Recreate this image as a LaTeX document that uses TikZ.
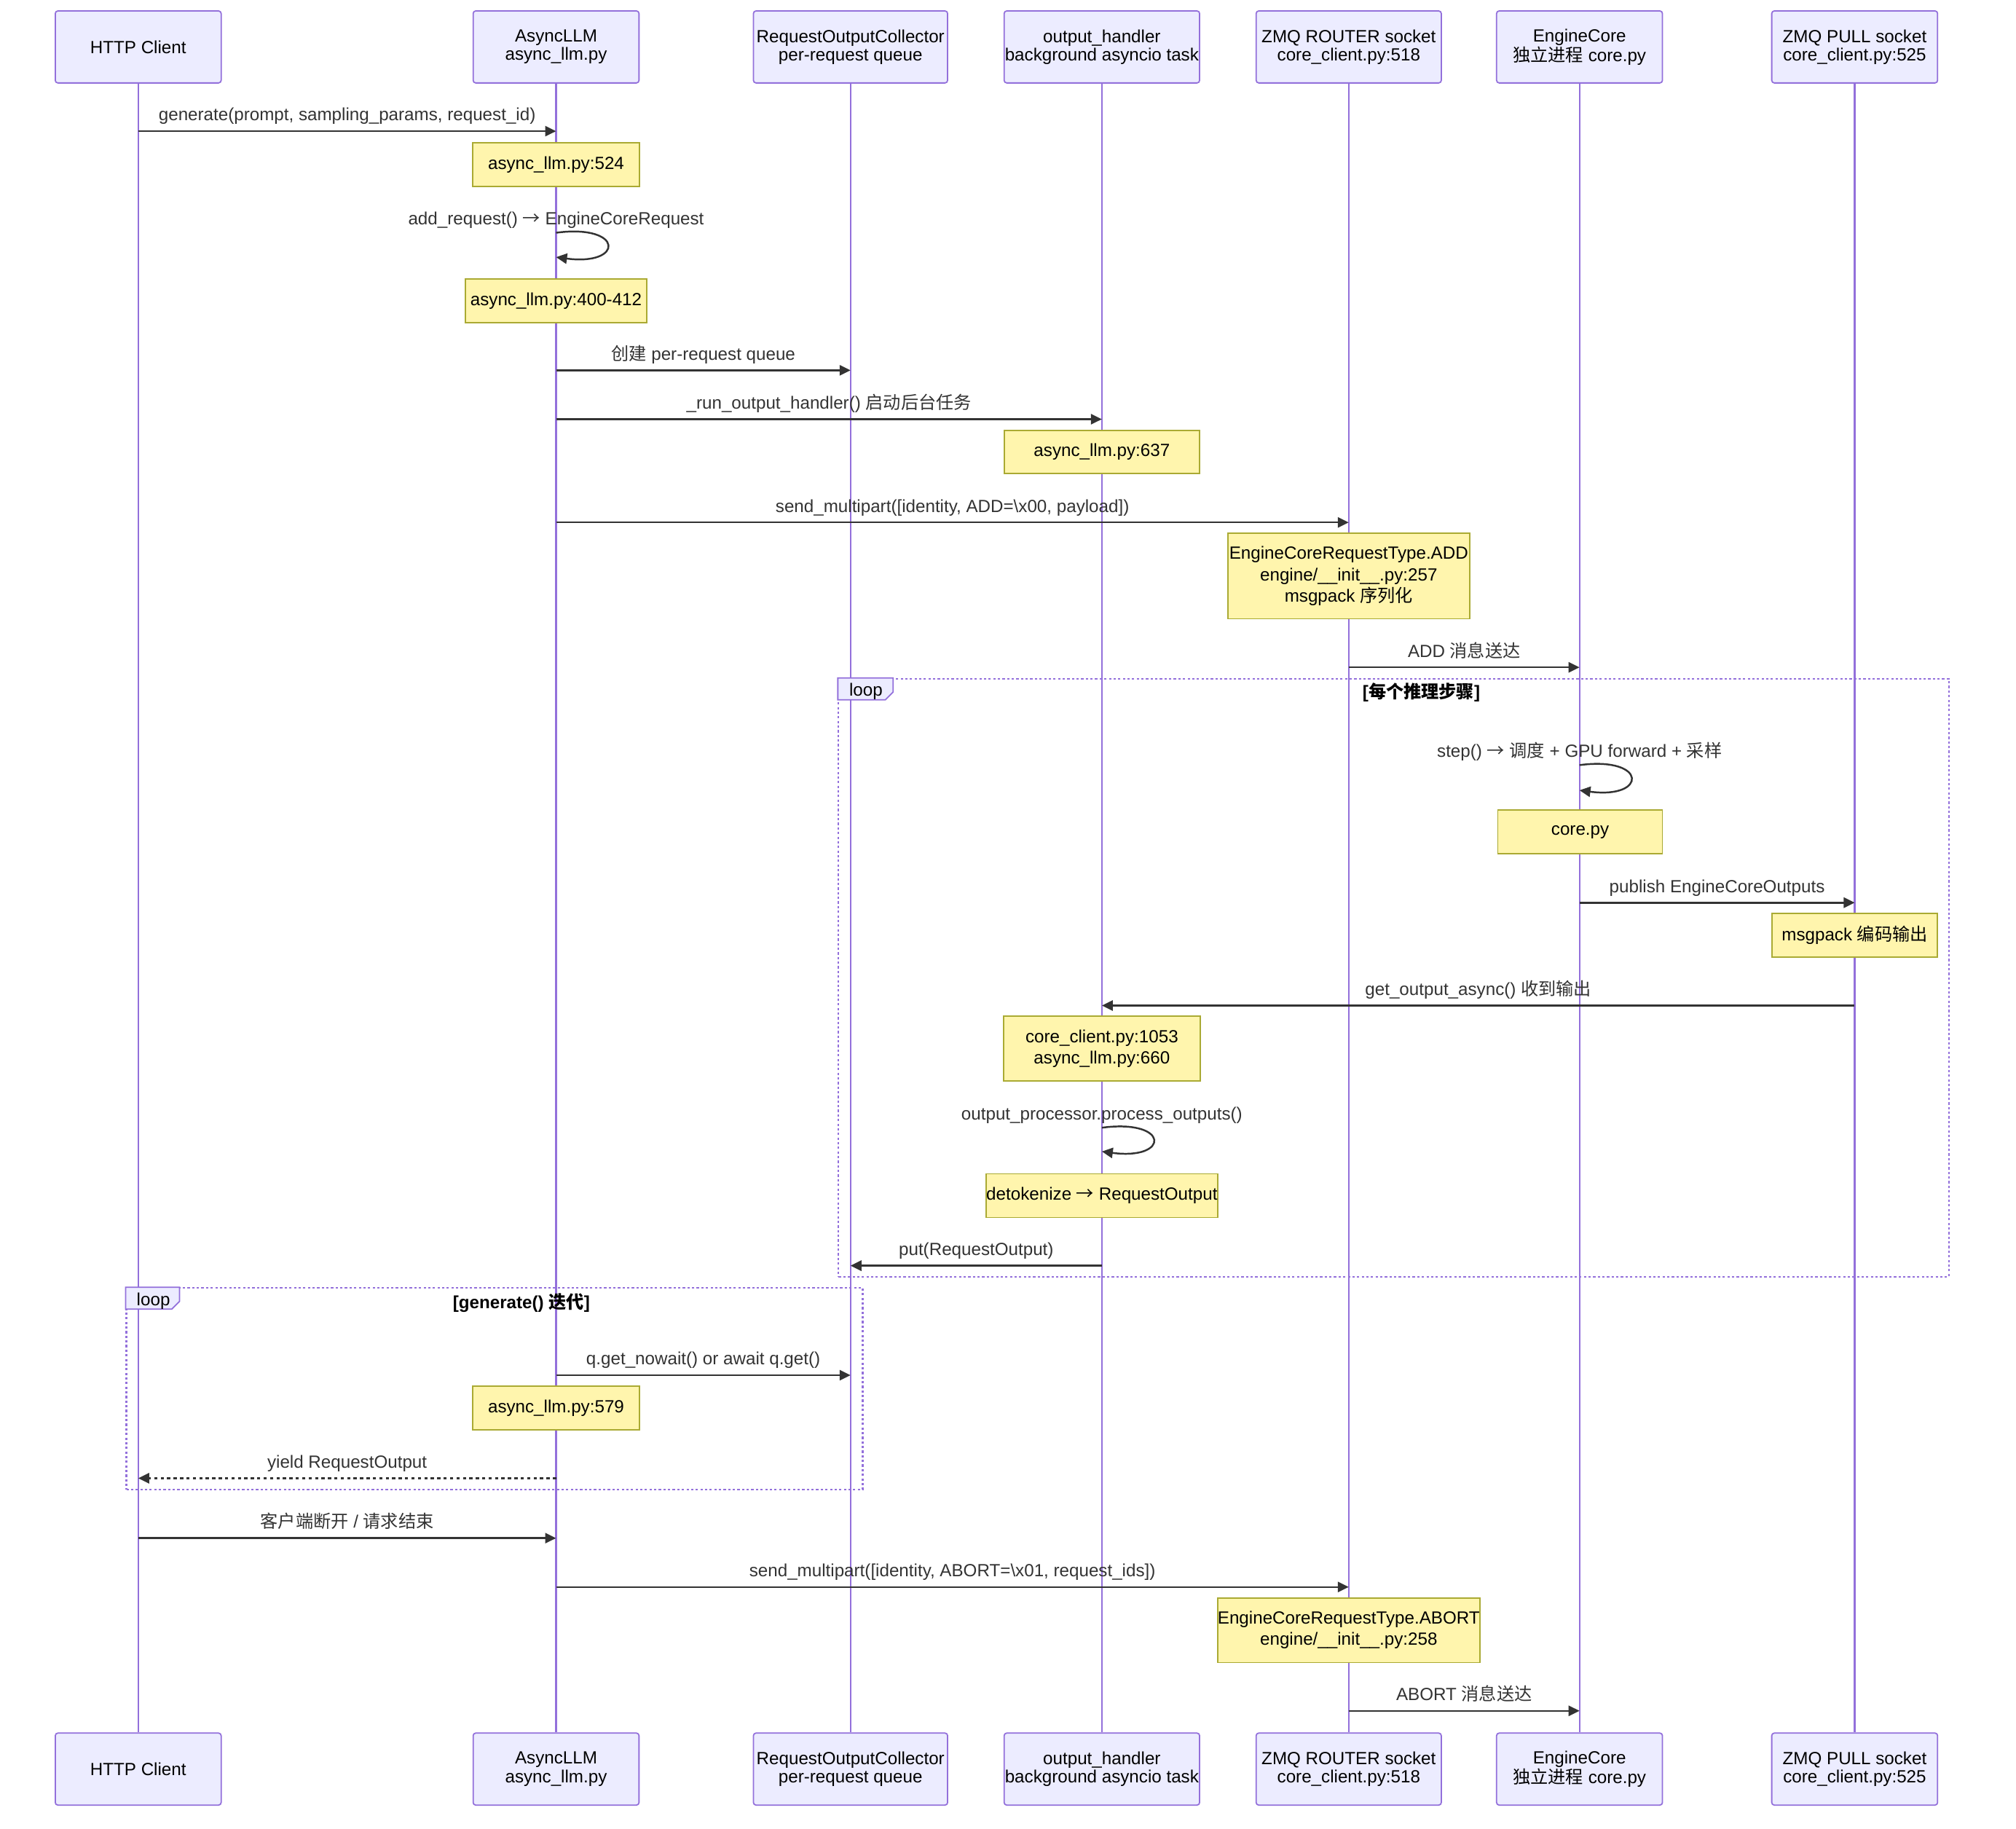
\documentclass[tikz,border=0pt]{standalone}
\usepackage{fontspec}
\setmainfont{Liberation Sans}
\newfontfamily\cjk{Noto Sans CJK SC}
\newcommand\zh[1]{{\cjk #1}}
\newcommand\rarr{{\cjk →}}
\usetikzlibrary{arrows.meta,calc}
\definecolor{actfill}{HTML}{ECECFF}
\definecolor{actline}{HTML}{9370DB}
\definecolor{notefill}{HTML}{FFF5AD}
\definecolor{noteline}{HTML}{AAAA33}
\definecolor{msgcol}{HTML}{333333}
\begin{document}
\begin{tikzpicture}[x=1pt,y=-1pt,
  font=\fontsize{13.7}{15}\selectfont,
  actor/.style={draw=actline, fill=actfill, line width=1pt, rounded corners=2pt,
    minimum height=56, align=center, inner sep=0pt, text=black,
    font=\fontsize{13.7}{14.3}\selectfont},
  life/.style={draw=actline, line width=1.2pt},
  notebox/.style={draw=noteline, fill=notefill, line width=1pt, align=center,
    inner sep=0pt, text=black, font=\fontsize{13.7}{16.5}\selectfont},
  msg/.style={draw=msgcol, line width=1.4pt, -{Triangle[length=8.5pt,width=8pt]}},
  dmsg/.style={msg, dash pattern=on 2.5pt off 2.5pt},
  mlabel/.style={anchor=base, yshift=8pt, text=msgcol, inner sep=0pt},
  slabel/.style={anchor=base, yshift=6pt, text=msgcol, inner sep=0pt},
  loopbox/.style={draw=actline, line width=1.2pt, dash pattern=on 1.8pt off 1.8pt, inner sep=0pt},
  looptab/.style={draw=actline, fill=actfill, line width=1pt},
  looptext/.style={anchor=base, inner sep=0pt, text=black},
  condtext/.style={anchor=base, inner sep=0pt, text=black, font=\fontsize{13.7}{15}\selectfont\bfseries}
]
\useasboundingbox[fill=white] (0,0) rectangle (1568,1422);

% actors top
\node[actor, minimum width=129] (a1) at (107.5,36.5) {HTTP Client};
\node[actor, minimum width=129] (a2) at (432.5,36.5) {AsyncLLM\\async\_llm.py};
\node[actor, minimum width=151] (a3) at (661.5,36.5) {RequestOutputCollector\\per-request queue};
\node[actor, minimum width=152] (a4) at (857,36.5) {output\_handler\\background asyncio task};
\node[actor, minimum width=144] (a5) at (1049,36.5) {ZMQ ROUTER socket\\core\_client.py:518};
\node[actor, minimum width=129] (a6) at (1228.5,36.5) {EngineCore\\\zh{独立进程} core.py};
\node[actor, minimum width=129] (a7) at (1442.5,36.5) {ZMQ PULL socket\\core\_client.py:525};
% actors bottom
\node[actor, minimum width=129] (b1) at (107.5,1375.8) {HTTP Client};
\node[actor, minimum width=129] (b2) at (432.5,1375.8) {AsyncLLM\\async\_llm.py};
\node[actor, minimum width=151] (b3) at (661.5,1375.8) {RequestOutputCollector\\per-request queue};
\node[actor, minimum width=152] (b4) at (857,1375.8) {output\_handler\\background asyncio task};
\node[actor, minimum width=144] (b5) at (1049,1375.8) {ZMQ ROUTER socket\\core\_client.py:518};
\node[actor, minimum width=129] (b6) at (1228.5,1375.8) {EngineCore\\\zh{独立进程} core.py};
\node[actor, minimum width=129] (b7) at (1442.5,1375.8) {ZMQ PULL socket\\core\_client.py:525};

% lifelines
\foreach \i in {1,...,7} \draw[life] (a\i.south) -- (b\i.north);

% loop boxes
\node[loopbox, minimum width=863.5, minimum height=465] (L1) at (1084,760.3) {};
\draw[looptab] (L1.north west) -- ++(43,0) -- ++(0,11) -- ++(-6,6) -- ++(-37,0) -- cycle;
\node[looptext] (L1t) at (673.5,541.5) {loop};
\node[condtext] (L1c) at (1105.5,543) {[\zh{每个推理步骤}]};

\node[loopbox, minimum width=572.7, minimum height=156.7] (L2) at (384.65,1080) {};
\draw[looptab] (L2.north west) -- ++(42,0) -- ++(0,11) -- ++(-6,6) -- ++(-36,0) -- cycle;
\node[looptext] (L2t) at (119.3,1015.5) {loop};
\node[condtext] (L2c) at (405.5,1017.5) {[generate() \zh{迭代}]};

% messages
\draw[msg] (a1 |- 0,102) -- node[mlabel] (t1) {generate(prompt, sampling\_params, request\_id)} (a2 |- 0,102);
\node[notebox, minimum width=129.5, minimum height=34] (n1) at (432.5,128) {async\_llm.py:524};

\draw[msg] (a2 |- 0,181) .. controls +(53,-7) and +(53,7) .. (a2 |- 0,200);
\node[slabel] (t2) at (a2 |- 0,181) {add\_request() \rarr{} EngineCoreRequest};
\node[notebox, minimum width=141, minimum height=34] (n2) at (432.5,234) {async\_llm.py:400-412};

\draw[msg] (a2 |- 0,288) -- node[mlabel] (t3) {\zh{创建} per-request queue} (a3 |- 0,288);
\draw[msg] (a2 |- 0,326) -- node[mlabel] (t4) {\_run\_output\_handler() \zh{启动后台任务}} (a4 |- 0,326);
\node[notebox, minimum width=152, minimum height=33.5] (n3) at (857,351.5) {async\_llm.py:637};

\draw[msg] (a2 |- 0,406.3) -- node[mlabel] (t5) {send\_multipart([identity, ADD=\textbackslash x00, payload])} (a5 |- 0,406.3);
\node[notebox, minimum width=188, minimum height=66.5] (n4) at (1049,448) {EngineCoreRequestType.ADD\\engine/\_\_init\_\_.py:257\\msgpack \zh{序列化}};

\draw[msg] (a5 |- 0,519) -- node[mlabel] (t6) {ADD \zh{消息送达}} (a6 |- 0,519);

\draw[msg] (a6 |- 0,595) .. controls +(53,-7) and +(53,7) .. (a6 |- 0,614.6);
\node[slabel] (t7) at (a6 |- 0,595) {step() \rarr{} \zh{调度} + GPU forward + \zh{采样}};
\node[notebox, minimum width=128, minimum height=34] (n5) at (1229,647) {core.py};

\draw[msg] (a6 |- 0,702) -- node[mlabel] (t8) {publish EngineCoreOutputs} (a7 |- 0,702);
\node[notebox, minimum width=129, minimum height=34] (n6) at (1442.5,727.3) {msgpack \zh{编码输出}};

\draw[msg] (a7 |- 0,782) -- node[mlabel] (t9) {get\_output\_async() \zh{收到输出}} (a4 |- 0,782);
\node[notebox, minimum width=153, minimum height=50.4] (n7) at (857,815.6) {core\_client.py:1053\\async\_llm.py:660};

\draw[msg] (a4 |- 0,877) .. controls +(53,-7) and +(53,7) .. (a4 |- 0,895.5);
\node[slabel] (t10) at (a4 |- 0,877) {output\_processor.process\_outputs()};
\node[notebox, minimum width=180, minimum height=34] (n8) at (857,929.8) {detokenize \rarr{} RequestOutput};

\draw[msg] (a4 |- 0,984.3) -- node[mlabel] (t11) {put(RequestOutput)} (a3 |- 0,984.3);

\draw[msg] (a2 |- 0,1069.5) -- node[mlabel] (t12) {q.get\_nowait() or await q.get()} (a3 |- 0,1069.5);
\node[notebox, minimum width=129.5, minimum height=34] (n9) at (432.5,1095) {async\_llm.py:579};
\draw[dmsg] (a2 |- 0,1149.6) -- node[mlabel] (t13) {yield RequestOutput} (a1 |- 0,1149.6);

\draw[msg] (a1 |- 0,1196.2) -- node[mlabel] (t14) {\zh{客户端断开} / \zh{请求结束}} (a2 |- 0,1196.2);
\draw[msg] (a2 |- 0,1234.2) -- node[mlabel] (t15) {send\_multipart([identity, ABORT=\textbackslash x01, request\_ids])} (a5 |- 0,1234.2);
\node[notebox, minimum width=204, minimum height=50.2] (n10) at (1049,1267.8) {EngineCoreRequestType.ABORT\\engine/\_\_init\_\_.py:258};
\draw[msg] (a5 |- 0,1330.5) -- node[mlabel] (t16) {ABORT \zh{消息送达}} (a6 |- 0,1330.5);
\end{tikzpicture}
\end{document}
